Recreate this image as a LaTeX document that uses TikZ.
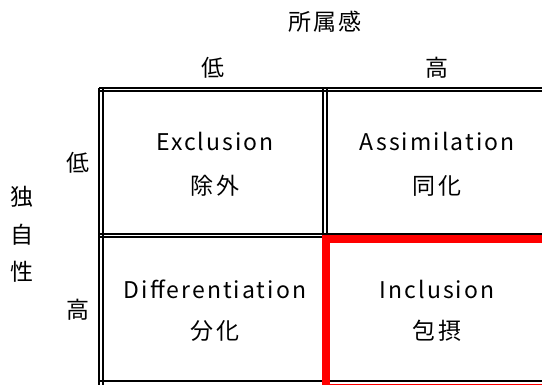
\documentclass[tikz,border=0pt]{standalone}
\usepackage{fontspec}
\setmainfont{Noto Sans CJK JP}[LetterSpace=9]
\begin{document}
\begin{tikzpicture}[x=1pt,y=-1pt,
  lbl/.style={font=\fontsize{23}{26}\selectfont, inner sep=0pt, anchor=center},
  rule/.style={line width=2pt, black}]
\useasboundingbox (0,0) rectangle (542,385);
\begin{scope}
\clip (0,0) rectangle (542,385);
% horizontal double rules
\foreach \y in {88,91.5,234,237.5,381}
  \draw[rule] (99,\y) -- (560,\y);
% vertical double rules
\foreach \x in {99,102.5,323,326.5}
  \draw[rule] (\x,88) -- (\x,400);
% highlight
\draw[red, line width=7.5pt] (326,239) rectangle (560,388);
\end{scope}
\node[lbl] (top) at (325,22) {所属感};
\node[lbl] (clo) at (213,68) {低};
\node[lbl] (chi) at (437,68) {高};
\node[lbl] (rlo) at (78,163) {低};
\node[lbl] (rhi) at (78,310) {高};
\node[lbl] (s1) at (22,197) {独};
\node[lbl] (s2) at (22,235) {自};
\node[lbl] (s3) at (22,272) {性};
\node[lbl] (e1) at (215,141) {Exclusion};
\node[lbl] (e2) at (215,186) {除外};
\node[lbl] (a1) at (437,141) {Assimilation};
\node[lbl] (a2) at (437,186) {同化};
\node[lbl] (d1) at (215,289) {Differentiation};
\node[lbl] (d2) at (215,331) {分化};
\node[lbl] (i1) at (437,289) {Inclusion};
\node[lbl] (i2) at (437,331) {包摂};
\end{tikzpicture}
\end{document}
